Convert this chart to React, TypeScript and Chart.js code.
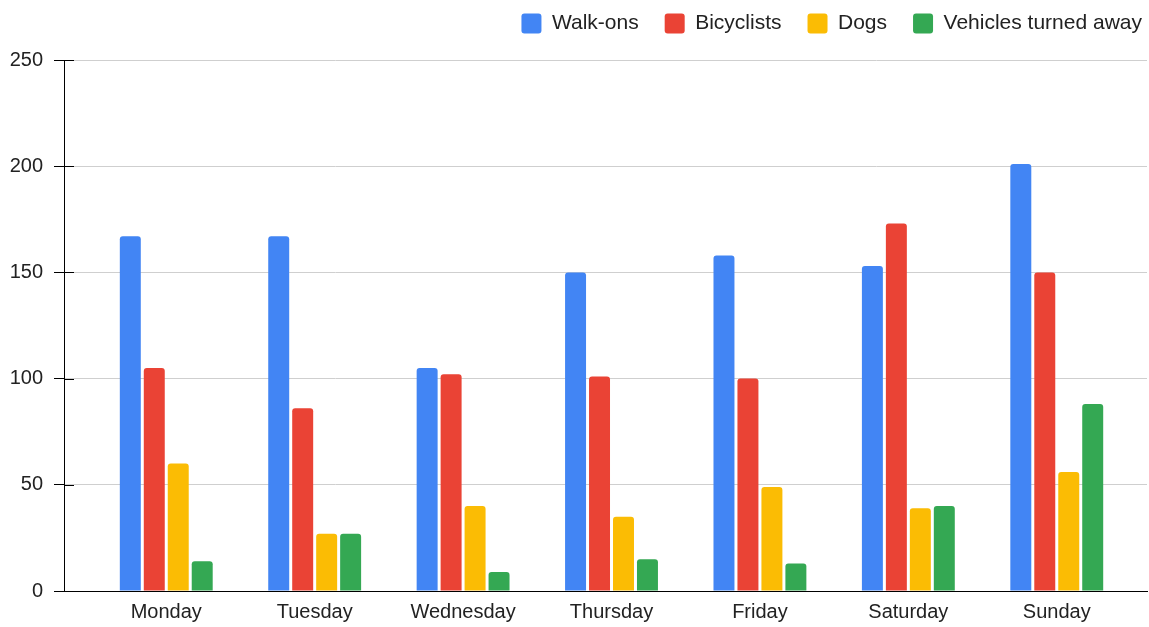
import React, { useEffect, useRef } from "react";
import { Chart, registerables } from "chart.js";

Chart.register(...registerables);

const days = ["Monday", "Tuesday", "Wednesday", "Thursday", "Friday", "Saturday", "Sunday"];
const walkOns = [167, 167, 105, 150, 158, 153, 201];
const bicyclists = [105, 86, 102, 101, 100, 173, 150];
const dogs = [60, 27, 40, 35, 49, 39, 56];
const vehicles = [14, 27, 9, 15, 13, 40, 88];
const seriesNames = ["Walk-ons", "Bicyclists", "Dogs", "Vehicles turned away"];
const seriesColors = ["#4285F4", "#EA4335", "#FBBC04", "#34A853"];
const yMax = 250;
const yStep = 50;

const FONT = "'Liberation Sans', Arial, Helvetica, sans-serif";

export default function App() {
  const ref = useRef<HTMLCanvasElement | null>(null);

  useEffect(() => {
    if (!ref.current) return;
    const allSeries = [walkOns, bicyclists, dogs, vehicles];
    const datasets = allSeries.map((vals, k) => ({
      label: seriesNames[k],
      data: vals.map((v, i) => ({ x: i, y: v })),
      backgroundColor: seriesColors[k],
      borderColor: seriesColors[k],
      borderWidth: 0,
      borderRadius: 3,
      categoryPercentage: 0.646,
      barPercentage: 0.875,
    }));

    const layoutPlugin = {
      id: "layoutTweaks",
      beforeInit(chart: any) {
        const legend = chart.legend;
        if (legend) {
          const orig = legend.fit;
          legend.fit = function () {
            orig.call(this);
            this.height = 60;
          };
        }
      },
      afterLayout(chart: any) {
        const legend = chart.legend;
        if (legend) {
          legend.top = -13;
          legend.bottom = 47;
          legend.right = 1168;
        }
      },
      afterDraw(chart: any) {
        const { ctx, chartArea } = chart;
        const y = chart.scales.y;
        ctx.save();
        ctx.strokeStyle = "#000";
        ctx.lineWidth = 1;
        ctx.beginPath();
        y.ticks.forEach((t: any) => {
          const py = Math.round(y.getPixelForValue(t.value)) + 0.5;
          ctx.moveTo(chartArea.left, py);
          ctx.lineTo(chartArea.left + 10, py);
        });
        ctx.stroke();
        ctx.restore();
      },
    };

    const chart = new Chart(ref.current, {
      type: "bar",
      data: { datasets },
      options: {
        animation: false,
        responsive: false,
        layout: { padding: { left: 0, right: 2, top: 0, bottom: 0 } },
        plugins: {
          tooltip: { enabled: false },
          legend: {
            position: "top",
            align: "end",
            labels: {
              boxWidth: 20,
              boxHeight: 20,
              padding: 26,
              useBorderRadius: true,
              borderRadius: 3,
              color: "#222",
              font: { family: FONT, size: 21 },
            },
          },
        },
        scales: {
          x: {
            type: "linear",
            offset: false,
            bounds: "ticks",
            min: -0.689,
            max: 6.608,
            afterBuildTicks: (s: any) => {
              s.ticks = days.map((_, i) => ({ value: i }));
            },
            afterFit: (s: any) => {
              s.height = 36;
            },
            ticks: {
              autoSkip: false,
              maxRotation: 0,
              padding: 9,
              color: "#222",
              font: { family: FONT, size: 20 },
              callback: (v: any) => days[v] ?? "",
            },
            grid: { display: false, drawTicks: false, offset: false },
            border: { display: true, color: "#000", width: 1 },
          },
          y: {
            min: 0,
            max: yMax,
            afterFit: (s: any) => {
              s.width = 64;
            },
            ticks: {
              stepSize: yStep,
              padding: 11,
              color: "#222",
              font: { family: FONT, size: 20 },
            },
            grid: {
              color: "#cfcfcf",
              lineWidth: 1,
              tickColor: "#000",
              tickLength: 10,
            },
            border: { display: true, color: "#000", width: 1 },
          },
        },
      },
      plugins: [layoutPlugin],
    } as any);

    return () => chart.destroy();
  }, []);

  return (
    <div style={{ position: "fixed", left: 0, top: 0, width: 1149, height: 627, background: "#fff" }}>
      <canvas ref={ref} width={1149} height={627} style={{ display: "block" }} />
    </div>
  );
}
